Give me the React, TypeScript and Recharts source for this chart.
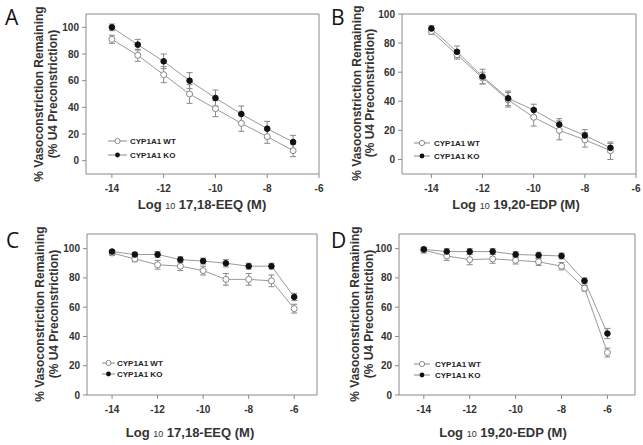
import React from 'react';
import { LineChart, Line, XAxis, YAxis, ErrorBar, ReferenceLine } from 'recharts';

// ---- Data ----
const concAB = [-14, -13, -12, -11, -10, -9, -8, -7];
const concCD = [-14, -13, -12, -11, -10, -9, -8, -7, -6];

const wtA = [91, 79, 64.5, 50, 39, 28, 18, 7.5];
const wtErrA = [3, 4.5, 6, 7, 6, 6, 5, 4.5];
const koA = [100, 87, 74.5, 60, 47, 35, 24, 14];
const koErrA = [2.5, 4, 5.5, 6, 6, 6, 5.5, 5];

const wtB = [88, 72, 56, 41, 29, 20, 13.5, 6];
const wtErrB = [2, 3, 4, 5, 6, 6.5, 5, 6];
const koB = [90, 74, 57, 42, 34, 24, 16.5, 8];
const koErrB = [2, 4, 5, 5, 4, 4, 4, 3];

const wtC = [97, 93, 89, 88, 85, 79, 79, 78, 59];
const wtErrC = [1.5, 2, 3, 3, 3, 4, 4, 4, 3];
const koC = [98, 96, 96, 92.5, 91.5, 90, 88, 88, 67];
const koErrC = [1, 1.5, 2, 2, 2, 2.5, 2, 2, 2.5];

const wtD = [99, 95, 92.5, 93, 92, 91, 88, 73, 29];
const wtErrD = [2, 3, 3.5, 3, 2.5, 2.5, 2.5, 2, 3];
const koD = [99.5, 98, 98, 98, 96, 95.5, 95, 78, 42];
const koErrD = [1, 2, 2, 2, 2, 2, 2, 2, 3.5];

const xTicks = [-14, -12, -10, -8, -6];
const yTicksAB = [0, 20, 40, 60, 80, 100];
const yTicksCD = [0, 20, 40, 60, 80, 100];

const seriesNames = ['CYP1A1 WT', 'CYP1A1 KO'];
const yLabel1 = '% Vasoconstriction Remaining';
const yLabel2 = '(% U4 Preconstriction)';
const xLabelA = '17,18-EEQ (M)';
const xLabelB = '19,20-EDP (M)';

function rows(conc: number[], wt: number[], wtErr: number[], ko: number[], koErr: number[]) {
  return conc.map((x, i) => ({ x, wt: wt[i], wtErr: wtErr[i], ko: ko[i], koErr: koErr[i] }));
}

const YW = 30;
const XH = 30;
const AXIS = '#8a8a8a';
const TICKTXT = '#333';
const FONT = '"Liberation Sans", Arial, sans-serif';

type PanelProps = {
  box: { left: number; top: number; width: number; height: number };
  plot: { x0: number; y0: number; x1: number; y1: number };
  xDomain: [number, number];
  yDomain: [number, number];
  yTicks: number[];
  data: any[];
};

function Panel({ box, plot, xDomain, yDomain, yTicks, data }: PanelProps) {
  const margin = {
    left: plot.x0 - box.left - YW,
    top: plot.y0 - box.top,
    right: box.left + box.width - plot.x1,
    bottom: box.top + box.height - plot.y1 - XH,
  };
  const tickStyle = { fontSize: 10, fontWeight: 700, fill: TICKTXT, fontFamily: FONT };
  return (
    <div style={{ position: 'absolute', left: box.left, top: box.top }}>
      <LineChart width={box.width} height={box.height} data={data} margin={margin} style={{ overflow: 'visible' }}>
        <XAxis
          type="number"
          dataKey="x"
          domain={xDomain}
          ticks={xTicks}
          allowDataOverflow
          height={XH}
          stroke={AXIS}
          tickSize={4}
          tickMargin={7}
          tick={tickStyle}
          tickLine={{ stroke: AXIS }}
          interval={0}
        />
        <YAxis
          type="number"
          domain={yDomain}
          ticks={yTicks}
          allowDataOverflow
          width={YW}
          stroke={AXIS}
          tickSize={4}
          tickMargin={3}
          tick={tickStyle}
          tickLine={{ stroke: AXIS }}
          interval={0}
        />
        <ReferenceLine y={yDomain[1]} stroke={AXIS} strokeWidth={1} />
        <ReferenceLine x={xDomain[1]} stroke={AXIS} strokeWidth={1} />
        <Line
          dataKey="wt"
          stroke="#9a9a9a"
          strokeWidth={1}
          isAnimationActive={false}
          dot={{ r: 3, fill: '#fff', stroke: '#888', strokeWidth: 1 }}
        >
          <ErrorBar dataKey="wtErr" direction="y" width={3} stroke="#888" strokeWidth={1} />
        </Line>
        <Line
          dataKey="ko"
          stroke="#9a9a9a"
          strokeWidth={1}
          isAnimationActive={false}
          dot={{ r: 2.8, fill: '#111', stroke: '#111', strokeWidth: 1 }}
        >
          <ErrorBar dataKey="koErr" direction="y" width={3} stroke="#888" strokeWidth={1} />
        </Line>
      </LineChart>
    </div>
  );
}

function YLabel({ cy, b1, b2 }: { cy: number; b1: number; b2: number }) {
  const st = { fontSize: 12, fontWeight: 700, fill: '#333', fontFamily: FONT } as any;
  return (
    <g>
      <text x={b1} y={cy} transform={`rotate(-90 ${b1} ${cy})`} textAnchor="middle" style={st}>{yLabel1}</text>
      <text x={b2} y={cy} transform={`rotate(-90 ${b2} ${cy})`} textAnchor="middle" style={st}>{yLabel2}</text>
    </g>
  );
}

function XLabel({ cx, y, text }: { cx: number; y: number; text: string }) {
  return (
    <text x={cx} y={y} textAnchor="middle" style={{ fontSize: 13, fontWeight: 700, fill: '#333', fontFamily: FONT }}>
      <tspan>Log </tspan>
      <tspan style={{ fontSize: 9, fontWeight: 400 }}>10</tspan>
      <tspan> {text}</tspan>
    </text>
  );
}

function LegendBox({ x0, x1, tx, y1, y2 }: { x0: number; x1: number; tx: number; y1: number; y2: number }) {
  const mx = (x0 + x1) / 2;
  const st = { fontSize: 8, fontWeight: 700, fill: '#222', fontFamily: FONT } as any;
  return (
    <g>
      <line x1={x0} x2={x1} y1={y1} y2={y1} stroke="#888" />
      <circle cx={mx} cy={y1} r={2.6} fill="#fff" stroke="#888" />
      <text x={tx} y={y1 + 2.8} style={st}>{seriesNames[0]}</text>
      <line x1={x0} x2={x1} y1={y2} y2={y2} stroke="#888" />
      <circle cx={mx} cy={y2} r={2.4} fill="#111" />
      <text x={tx} y={y2 + 2.8} style={st}>{seriesNames[1]}</text>
    </g>
  );
}

const letterStyle = { fontSize: 21, fontWeight: 400, fill: '#111', fontFamily: '"Open Sans", sans-serif' } as any;

export default function App() {
  return (
    <div style={{ position: 'absolute', left: 0, top: 0, width: 643, height: 445, background: '#fff', overflow: 'hidden' }}>
      <Panel
        box={{ left: 0, top: 0, width: 326, height: 220 }}
        plot={{ x0: 86, y0: 14, x1: 319, y1: 174 }}
        xDomain={[-15, -6]}
        yDomain={[-10, 110]}
        yTicks={yTicksAB}
        data={rows(concAB, wtA, wtErrA, koA, koErrA)}
      />
      <Panel
        box={{ left: 322, top: 0, width: 321, height: 220 }}
        plot={{ x0: 402, y0: 14, x1: 636, y1: 174 }}
        xDomain={[-15.15, -6]}
        yDomain={[-10, 100]}
        yTicks={yTicksAB}
        data={rows(concAB, wtB, wtErrB, koB, koErrB)}
      />
      <Panel
        box={{ left: 0, top: 220, width: 326, height: 225 }}
        plot={{ x0: 87, y0: 234, x1: 317, y1: 395 }}
        xDomain={[-15.1, -5]}
        yDomain={[0, 110]}
        yTicks={yTicksCD}
        data={rows(concCD, wtC, wtErrC, koC, koErrC)}
      />
      <Panel
        box={{ left: 322, top: 220, width: 321, height: 225 }}
        plot={{ x0: 399, y0: 234, x1: 635, y1: 395 }}
        xDomain={[-15.08, -4.8]}
        yDomain={[0, 110]}
        yTicks={yTicksCD}
        data={rows(concCD, wtD, wtErrD, koD, koErrD)}
      />
      <svg width={643} height={445} style={{ position: 'absolute', left: 0, top: 0, pointerEvents: 'none' }}>
        <text x={5} y={25} style={letterStyle}>A</text>
        <text x={331} y={25} style={letterStyle}>B</text>
        <text x={6} y={248} style={letterStyle}>C</text>
        <text x={331} y={248} style={letterStyle}>D</text>
        <YLabel cy={94} b1={43} b2={57} />
        <YLabel cy={93} b1={361} b2={374} />
        <YLabel cy={314} b1={44} b2={58} />
        <YLabel cy={314} b1={359} b2={373} />
        <XLabel cx={202} y={209} text={xLabelA} />
        <XLabel cx={516} y={209} text={xLabelB} />
        <XLabel cx={190} y={437} text={xLabelA} />
        <XLabel cx={503} y={437} text={xLabelB} />
        <LegendBox x0={108} x1={127} tx={130} y1={141} y2={155} />
        <LegendBox x0={414} x1={430} tx={434} y1={143} y2={156} />
        <LegendBox x0={102} x1={115} tx={117} y1={363} y2={374} />
        <LegendBox x0={414} x1={430} tx={435} y1={364} y2={375} />
      </svg>
    </div>
  );
}
